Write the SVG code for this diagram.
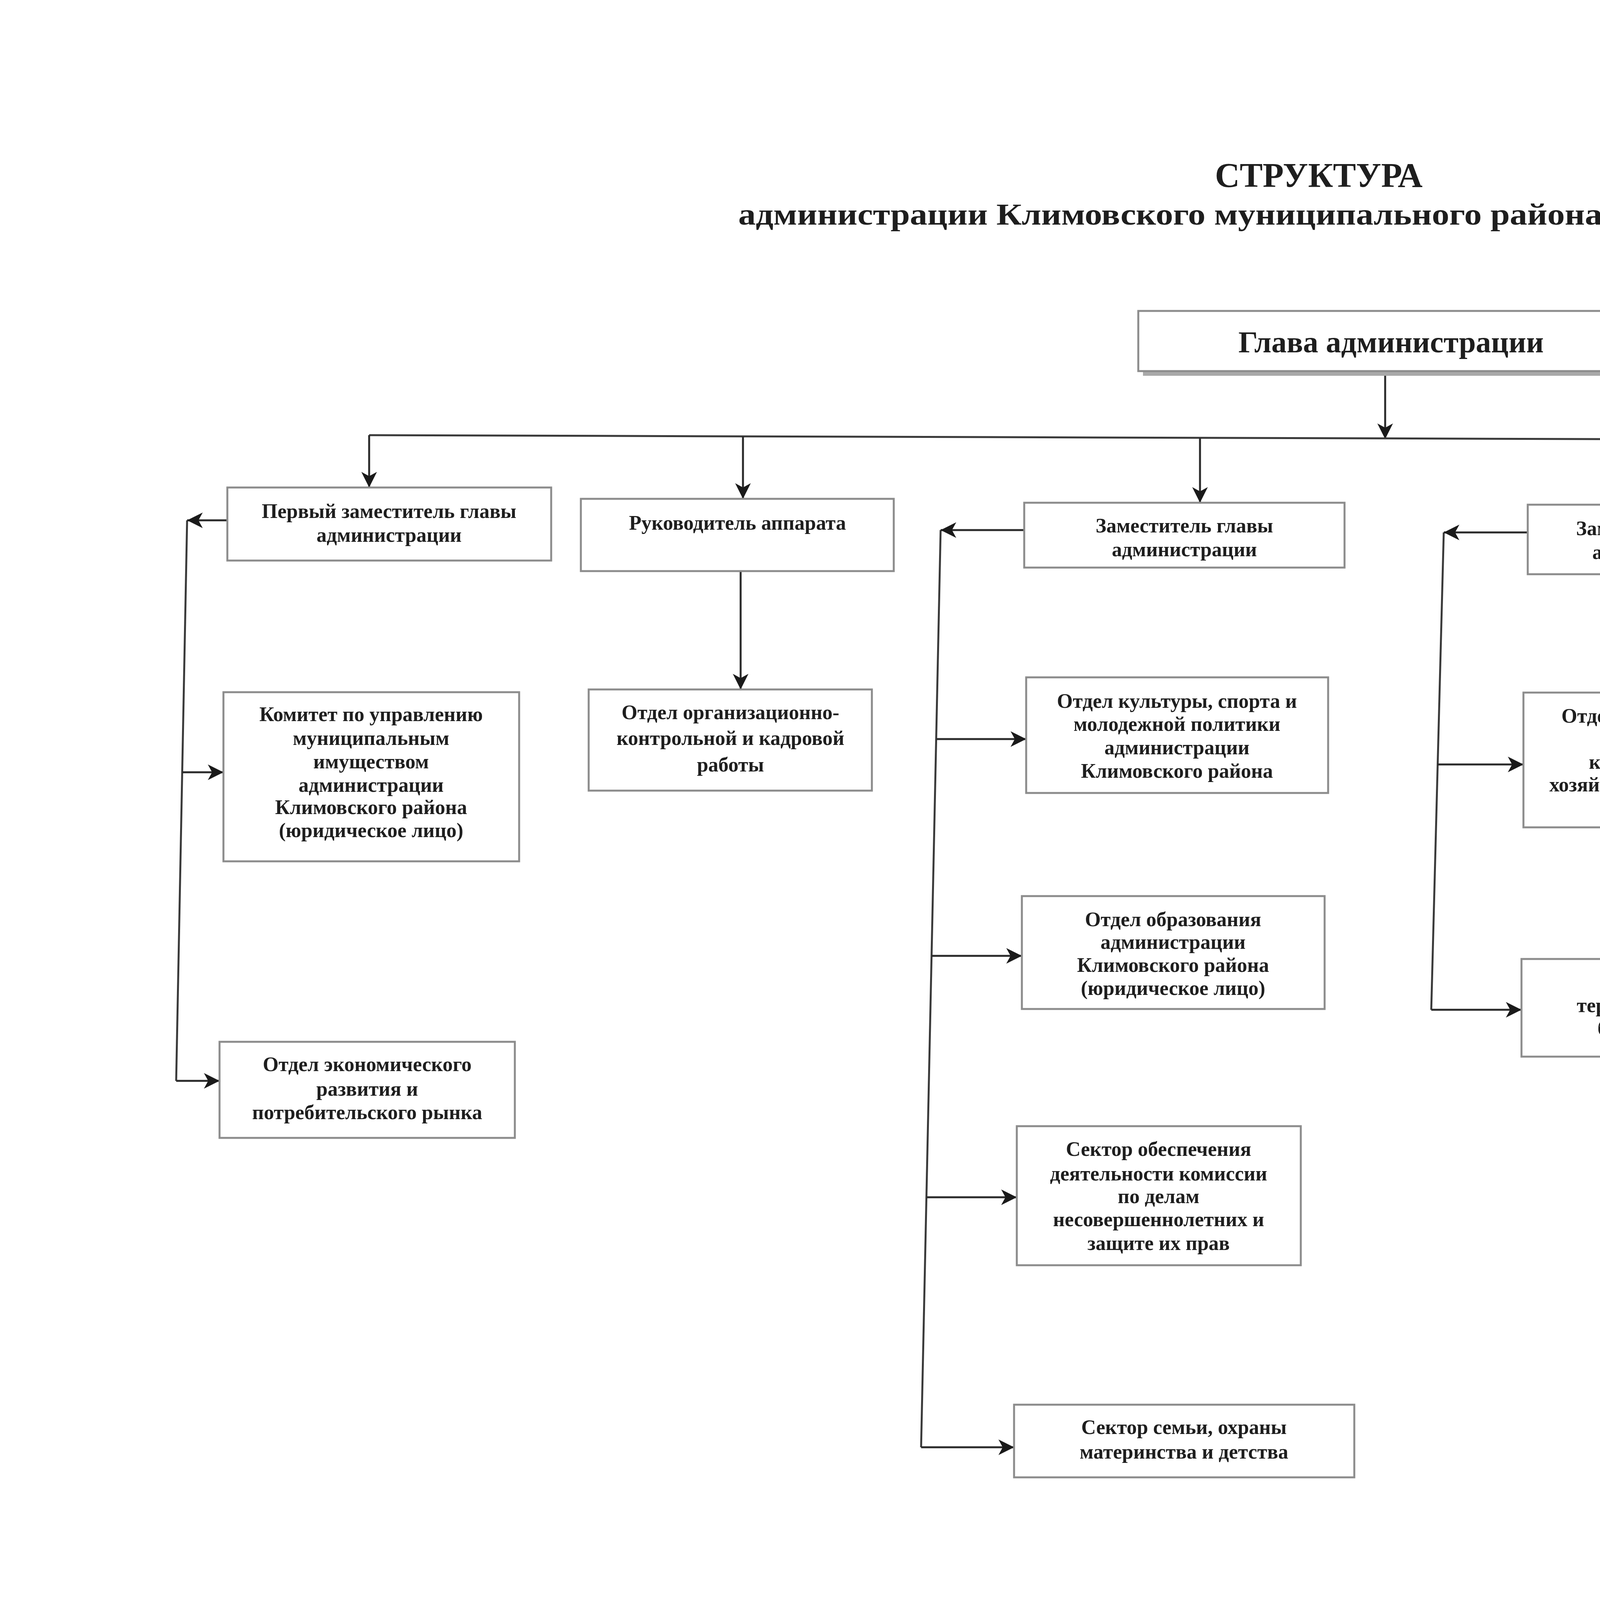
<svg xmlns="http://www.w3.org/2000/svg" width="6250" height="5000" viewBox="0 0 6250 5000">
<style>
.box{fill:#ffffff;stroke:#8c8c8c;stroke-width:5}
.t{font-family:"Liberation Serif","Times New Roman",serif;font-weight:bold;font-size:52px;fill:#1e1e1e;text-anchor:middle}
.big{font-family:"Liberation Serif","Times New Roman",serif;font-weight:bold;fill:#1e1e1e;text-anchor:middle}
.c{fill:none;stroke:#3a3a3a;stroke-width:5}
.ca{fill:none;stroke:#2a2a2a;stroke-width:5;marker-end:url(#arr)}
</style>
<defs>
<marker id="arr" viewBox="0 0 40 40" refX="40" refY="20" markerWidth="40" markerHeight="40" markerUnits="userSpaceOnUse" orient="auto">
<path d="M0,0 L40,20 L0,40 L11,20 Z" fill="#1a1a1a"/>
</marker>
</defs>
<rect width="6250" height="5000" fill="#ffffff"/>
<text class="big" x="3376" y="478" font-size="88">СТРУКТУРА</text>
<text class="big" x="3374" y="575" font-size="78" textLength="2968" lengthAdjust="spacingAndGlyphs">администрации Климовского муниципального района Брянской области</text>

<g id="connectors">
<line class="ca" x1="3546" y1="952" x2="3546" y2="1124"/>
<polyline class="c" points="945,1114 5943,1130 5908,3716"/>
<line class="ca" x1="945" y1="1114" x2="945" y2="1248"/>
<line class="ca" x1="1902" y1="1117" x2="1902" y2="1277"/>
<line class="ca" x1="3072" y1="1121" x2="3072" y2="1287"/>
<line class="ca" x1="4306" y1="1125" x2="4306" y2="1292"/>
<line class="ca" x1="5336" y1="1128" x2="5336" y2="1302"/>
<line class="ca" x1="1896" y1="1462" x2="1896" y2="1765"/>
<line class="c" x1="479" y1="1332" x2="451" y2="2767"/>
<line class="ca" x1="582" y1="1332" x2="479" y2="1332"/>
<line class="ca" x1="467" y1="1977" x2="572" y2="1977"/>
<line class="ca" x1="451" y1="2767" x2="562" y2="2767"/>
<line class="c" x1="2408" y1="1357" x2="2358" y2="3705"/>
<line class="ca" x1="2622" y1="1357" x2="2408" y2="1357"/>
<line class="ca" x1="2397" y1="1892" x2="2627" y2="1892"/>
<line class="ca" x1="2385" y1="2447" x2="2616" y2="2447"/>
<line class="ca" x1="2372" y1="3065" x2="2603" y2="3065"/>
<line class="ca" x1="2358" y1="3705" x2="2596" y2="3705"/>
<line class="c" x1="3696" y1="1363" x2="3664" y2="2585"/>
<line class="ca" x1="3911" y1="1363" x2="3696" y2="1363"/>
<line class="ca" x1="3680" y1="1957" x2="3900" y2="1957"/>
<line class="ca" x1="3664" y1="2585" x2="3895" y2="2585"/>
<line class="ca" x1="5912" y1="3010" x2="5703" y2="3010"/>
<line class="ca" x1="5908" y1="3716" x2="5693" y2="3716"/>
</g>

<g id="glava">
<rect x="2926" y="808" width="1294" height="154" fill="#a9a9a9"/>
<rect class="box" x="2914" y="796" width="1294" height="154"/>
<text class="big" x="3561" y="902" font-size="78">Глава администрации</text>
</g>
<g id="perv_zam">
<rect class="box" x="582" y="1248" width="829" height="187"/>
<text class="t" x="996" y="1326">Первый заместитель главы</text>
<text class="t" x="996" y="1387">администрации</text>
</g>
<g id="ruk_app">
<rect class="box" x="1487" y="1277" width="801" height="185"/>
<text class="t" x="1888" y="1356">Руководитель аппарата</text>
</g>
<g id="zam1">
<rect class="box" x="2622" y="1287" width="820" height="166"/>
<text class="t" x="3032" y="1363">Заместитель главы</text>
<text class="t" x="3032" y="1424">администрации</text>
</g>
<g id="zam2">
<rect class="box" x="3911" y="1292" width="702" height="178"/>
<text class="t" x="4262" y="1370">Заместитель главы</text>
<text class="t" x="4262" y="1431">администрации</text>
</g>
<g id="fin">
<rect class="box" x="4907" y="1302" width="823" height="315"/>
<text class="t" x="5318" y="1380">Финансовый отдел</text>
<text class="t" x="5318" y="1449">администрации Климовского</text>
<text class="t" x="5318" y="1516">района (юридическое лицо)</text>
</g>
<g id="komitet">
<rect class="box" x="572" y="1772" width="757" height="433"/>
<text class="t" x="950" y="1846">Комитет по управлению</text>
<text class="t" x="950" y="1907">муниципальным</text>
<text class="t" x="950" y="1967">имуществом</text>
<text class="t" x="950" y="2027">администрации</text>
<text class="t" x="950" y="2084">Климовского района</text>
<text class="t" x="950" y="2143">(юридическое лицо)</text>
</g>
<g id="org">
<rect class="box" x="1507" y="1765" width="725" height="259"/>
<text class="t" x="1870" y="1841">Отдел организационно-</text>
<text class="t" x="1870" y="1907">контрольной и кадровой</text>
<text class="t" x="1870" y="1975">работы</text>
</g>
<g id="econ">
<rect class="box" x="562" y="2667" width="756" height="246"/>
<text class="t" x="940" y="2742">Отдел экономического</text>
<text class="t" x="940" y="2805">развития и</text>
<text class="t" x="940" y="2865">потребительского рынка</text>
</g>
<g id="kult">
<rect class="box" x="2627" y="1734" width="773" height="296"/>
<text class="t" x="3013" y="1812">Отдел культуры, спорта и</text>
<text class="t" x="3013" y="1871">молодежной политики</text>
<text class="t" x="3013" y="1931">администрации</text>
<text class="t" x="3013" y="1991">Климовского района</text>
</g>
<g id="obr">
<rect class="box" x="2616" y="2294" width="775" height="289"/>
<text class="t" x="3003" y="2371">Отдел образования</text>
<text class="t" x="3003" y="2429">администрации</text>
<text class="t" x="3003" y="2488">Климовского района</text>
<text class="t" x="3003" y="2547">(юридическое лицо)</text>
</g>
<g id="kdn">
<rect class="box" x="2603" y="2883" width="727" height="356"/>
<text class="t" x="2966" y="2959">Сектор обеспечения</text>
<text class="t" x="2966" y="3022">деятельности комиссии</text>
<text class="t" x="2966" y="3080">по делам</text>
<text class="t" x="2966" y="3139">несовершеннолетних и</text>
<text class="t" x="2966" y="3200">защите их прав</text>
</g>
<g id="semya">
<rect class="box" x="2596" y="3596" width="871" height="186"/>
<text class="t" x="3031" y="3671">Сектор семьи, охраны</text>
<text class="t" x="3031" y="3734">материнства и детства</text>
</g>
<g id="arch">
<rect class="box" x="3900" y="1773" width="705" height="345"/>
<text class="t" x="4252" y="1850">Отдел архитектуры и</text>
<text class="t" x="4252" y="1909">жилищно-</text>
<text class="t" x="4252" y="1968">коммунального</text>
<text class="t" x="4252" y="2026">хозяйства (юридическое</text>
<text class="t" x="4252" y="2084">лицо)</text>
</g>
<g id="terr">
<rect class="box" x="3895" y="2455" width="698" height="250"/>
<text class="t" x="4244" y="2531">Отдел</text>
<text class="t" x="4244" y="2591">территориальной</text>
<text class="t" x="4244" y="2649">безопасности</text>
</g>
<g id="buh">
<rect class="box" x="4791" y="2930" width="912" height="189"/>
<text class="t" x="5247" y="3006">Отдел бухгалтерского учета и</text>
<text class="t" x="5247" y="3068">отчетности</text>
</g>
<g id="mun">
<rect class="box" x="4780" y="3607" width="913" height="193"/>
<text class="t" x="5236" y="3685">Сектор муниципального</text>
<text class="t" x="5236" y="3748">контроля</text>
</g>
</svg>
